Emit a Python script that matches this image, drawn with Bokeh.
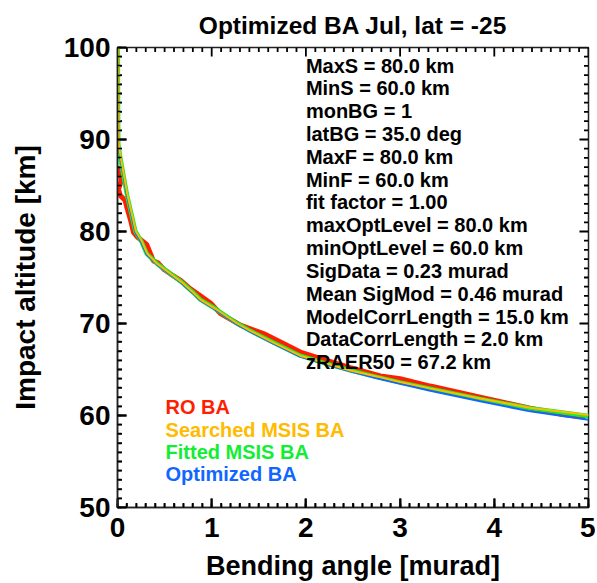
from bokeh.plotting import figure
from bokeh.models import Range1d, LinearAxis, Label, SingleIntervalTicker
from bokeh.embed import file_html
from bokeh.resources import INLINE

# ---------------- data ----------------
ro_ba = [0.0, 0.03, 0.04, 0.01, 0.03, 0.08, 0.10, 0.14, 0.17, 0.21, 0.26, 0.31, 0.35, 0.38,
         0.43, 0.49, 0.56, 0.67, 0.77, 0.88, 0.99, 1.09, 1.31, 1.55, 1.73, 1.94, 2.15, 2.47,
         2.79, 3.0, 3.32, 3.85, 4.38, 4.73, 4.97]
ro_alt = [86.8, 86.4, 85.5, 84.6, 83.9, 83.4, 82.6, 81.2, 79.9, 79.4, 79.0, 78.6, 77.6, 76.8,
          76.6, 75.9, 75.4, 74.7, 73.8, 73.0, 72.2, 71.1, 69.8, 68.9, 68.0, 66.9, 66.2, 65.2,
          64.3, 64.0, 63.2, 62.0, 60.8, 60.1, 59.8]

fit_ba = [0.003, 0.005, 0.008, 0.03, 0.065, 0.10, 0.145, 0.19, 0.25, 0.31, 0.42, 0.55, 0.68,
          0.80, 0.88, 1.04, 1.27, 1.41, 1.66, 1.94, 2.2, 2.47, 2.75, 3.0, 3.32, 3.85, 4.38, 5.0]
fit_alt = [100.0, 95.0, 89.5, 88.0, 86.0, 84.0, 82.0, 80.0, 79.0, 77.6, 76.5, 75.5, 74.5,
           73.4, 72.6, 71.6, 70.0, 69.2, 67.9, 66.5, 65.7, 64.9, 64.2, 63.6, 62.9, 61.8, 60.8, 59.95]

srch_ba = [0.008, 0.010, 0.013, 0.035, 0.07, 0.105, 0.15, 0.195, 0.255, 0.315, 0.42, 0.55, 0.68,
           0.80, 0.88, 1.04, 1.27, 1.41, 1.66, 1.94, 2.2, 2.47, 2.75, 3.0, 3.32, 3.85, 4.38, 5.0]
srch_alt = [100.0, 95.0, 89.5, 88.0, 86.0, 84.0, 82.0, 80.0, 79.0, 77.6, 76.5, 75.5, 74.5,
            73.4, 72.6, 71.6, 70.0, 69.2, 67.9, 66.5, 65.7, 64.9, 64.25, 63.65, 62.95, 61.85, 60.85, 60.05]

opt_ba = [0.004, 0.006, 0.009, 0.03, 0.065, 0.10, 0.145, 0.19, 0.25, 0.31, 0.42, 0.55, 0.68,
          0.80, 0.88, 1.04, 1.27, 1.41, 1.66, 1.94, 2.2, 2.47, 2.75, 3.0, 3.32, 3.85, 4.38, 5.0]
opt_alt = [100.0, 95.0, 89.5, 88.0, 86.0, 83.9, 81.9, 79.9, 78.9, 77.5, 76.4, 75.4, 74.4,
           73.3, 72.5, 71.5, 69.9, 69.1, 67.8, 66.4, 65.6, 64.8, 64.05, 63.45, 62.7, 61.55, 60.45, 59.55]

series_names = ["RO BA", "Searched MSIS BA", "Fitted MSIS  BA", "Optimized BA"]
series_colors = ["#FF1E00", "#FFBB00", "#11EE33", "#1166FF"]

info_lines = [
    "MaxS = 80.0 km",
    "MinS = 60.0 km",
    "monBG = 1",
    "latBG =  35.0 deg",
    "MaxF = 80.0 km",
    "MinF = 60.0 km",
    "fit factor =  1.00",
    "maxOptLevel = 80.0 km",
    "minOptLevel = 60.0 km",
    "SigData = 0.23 murad",
    "Mean SigMod = 0.46 murad",
    "ModelCorrLength = 15.0 km",
    "DataCorrLength =  2.0 km",
    "zRAER50 = 67.2 km",
]

title_text = "Optimized BA Jul, lat = -25"
x_label = "Bending angle [murad]"
y_label = "Impact altitude [km]"
x_min, x_max = 0, 5
y_min, y_max = 50, 100
x_major, y_major = 1, 10
n_minor = 10

FONT = "Liberation Sans"
FW, FH = 471, 460
TICK_COLOR = "#000000"

# ---------------- figure ----------------
p = figure(
    frame_width=FW, frame_height=FH,
    x_range=Range1d(x_min, x_max), y_range=Range1d(y_min, y_max),
    output_backend="svg", toolbar_location=None,
    min_border_left=117, min_border_right=7, min_border_top=47, min_border_bottom=76,
    x_axis_type=None, y_axis_type=None, title=title_text,
)
p.background_fill_color = "white"
p.border_fill_color = "white"
p.outline_line_color = "#222222"
p.outline_line_width = 1.5
p.grid.visible = False

p.title.text_font = FONT
p.title.text_font_size = "24.5px"
p.title.text_font_style = "bold"
p.title.align = "center"
p.title.text_color = "black"
p.title.text_line_height = 0.6
p.title.standoff = 17

x_per_px = (x_max - x_min) / FW
y_per_px = (y_max - y_min) / FH


def make_axis(interval, label_text):
    ax = LinearAxis(ticker=SingleIntervalTicker(interval=interval, num_minor_ticks=n_minor))
    ax.major_tick_in = 9
    ax.major_tick_out = 0
    ax.minor_tick_in = 4
    ax.minor_tick_out = 0
    ax.major_tick_line_color = TICK_COLOR
    ax.minor_tick_line_color = TICK_COLOR
    ax.major_tick_line_width = 2
    ax.minor_tick_line_width = 1.6
    ax.axis_line_color = "#222222"
    ax.axis_line_width = 1.5
    ax.major_label_text_font = FONT
    ax.major_label_text_font_style = "bold"
    ax.major_label_text_font_size = "28px"
    ax.major_label_text_color = "black"
    ax.axis_label = label_text
    ax.axis_label_text_font = FONT
    ax.axis_label_text_font_style = "bold"
    ax.axis_label_text_font_size = "27px"
    ax.axis_label_text_color = "black"
    return ax


xb = make_axis(x_major, x_label)
xb.major_label_standoff = 10
xb.axis_label_standoff = 11
p.add_layout(xb, "below")

yl = make_axis(y_major, y_label)
yl.major_label_standoff = 7
yl.axis_label_standoff = 20
yl.axis_label_text_font_size = "28px"
p.add_layout(yl, "left")

# ---------------- inward ticks on all four sides (drawn as lines) ----------------
MAJ_LEN, MIN_LEN = 9, 4.5  # px
x_step = x_major / n_minor
y_step = y_major / n_minor
x_ticks = [x_min + i * x_step for i in range(int(round((x_max - x_min) / x_step)) + 1)]
y_ticks = [y_min + i * y_step for i in range(int(round((y_max - y_min) / y_step)) + 1)]

tick_xs, tick_ys = [], []
for i, t in enumerate(x_ticks):
    L = MAJ_LEN if i % n_minor == 0 else MIN_LEN
    tick_xs.append([t, t]); tick_ys.append([y_min, y_min + L * y_per_px])
    tick_xs.append([t, t]); tick_ys.append([y_max, y_max - L * y_per_px])
for i, t in enumerate(y_ticks):
    L = MAJ_LEN if i % n_minor == 0 else MIN_LEN
    tick_xs.append([x_min, x_min + L * x_per_px]); tick_ys.append([t, t])
    tick_xs.append([x_max, x_max - L * x_per_px]); tick_ys.append([t, t])
p.multi_line(xs=tick_xs, ys=tick_ys, line_color=TICK_COLOR, line_width=1.8)

# ---------------- curves ----------------
p.line(ro_ba, ro_alt, line_color=series_colors[0], line_width=5)
p.line(fit_ba, fit_alt, line_color=series_colors[2], line_width=4.5)
p.line(opt_ba, opt_alt, line_color=series_colors[3], line_width=2)
p.line(srch_ba, srch_alt, line_color=series_colors[1], line_width=2)

# ---------------- legend (coloured texts) ----------------
leg_x, leg_y0, leg_dy = 0.51, 60.87, 2.42
for i, (name, col) in enumerate(zip(series_names, series_colors)):
    p.add_layout(Label(x=leg_x, y=leg_y0 - i * leg_dy, text=name, text_color=col,
                       text_font=FONT, text_font_style="bold", text_font_size="20px",
                       text_baseline="middle", text_align="left"))

# ---------------- info text ----------------
info_x, info_y0, info_dy = 2.0, 98.04, 2.48
for i, line in enumerate(info_lines):
    p.add_layout(Label(x=info_x, y=info_y0 - i * info_dy, text=line, text_color="black",
                       text_font=FONT, text_font_style="bold", text_font_size="20px",
                       text_baseline="middle", text_align="left"))

open("out.html", "w").write(file_html(p, INLINE))
